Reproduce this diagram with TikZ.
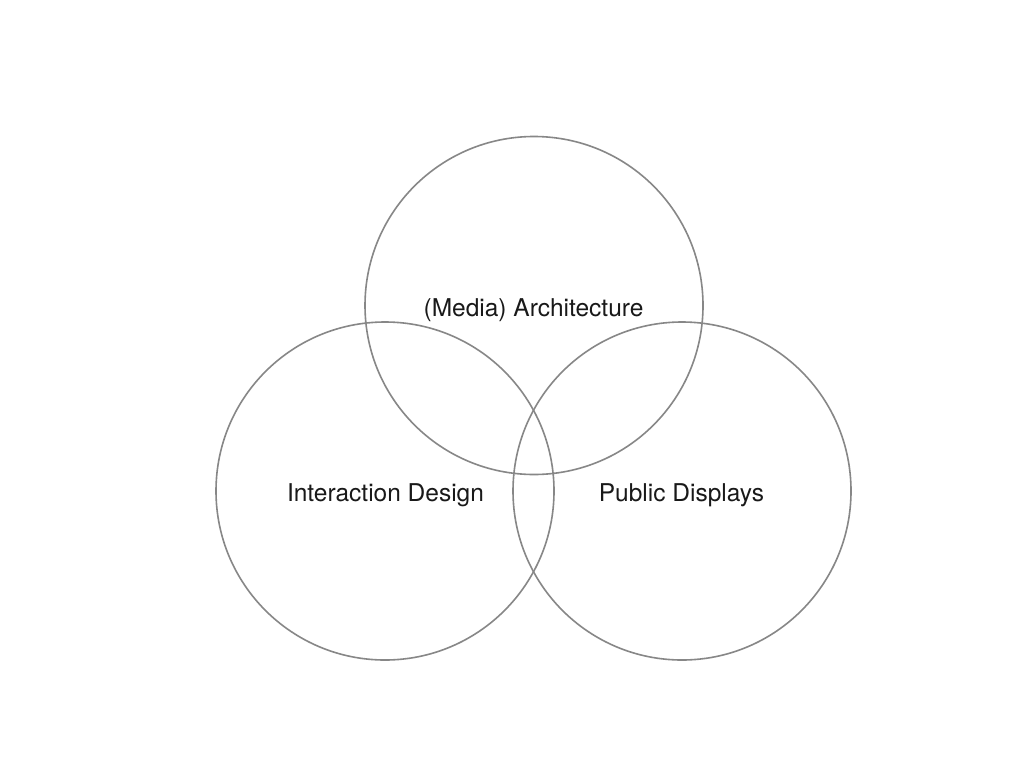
\documentclass[tikz,border=0pt]{standalone}
\usepackage{fontspec}
\setmainfont{TeX Gyre Heros}
\begin{document}
\begin{tikzpicture}[x=1pt,y=-1pt,
  venn/.style={draw=black!47, line width=1.6pt, circle, minimum size=338pt, inner sep=0pt},
  lbl/.style={font=\fontsize{24.5}{28}\selectfont, text=black!90, inner sep=0pt}]
\useasboundingbox[fill=white] (0,0) rectangle (1024,768);
\node[venn] (top) at (534,305.5) {};
\node[venn] (left) at (385,491) {};
\node[venn] (right) at (682,491) {};
\node[lbl] (tl) at (533.5,310) {(Media) Architecture};
\node[lbl] (ll) at (385.5,495) {Interaction Design};
\node[lbl] (rl) at (681.5,495) {Public Displays};
\end{tikzpicture}
\end{document}
